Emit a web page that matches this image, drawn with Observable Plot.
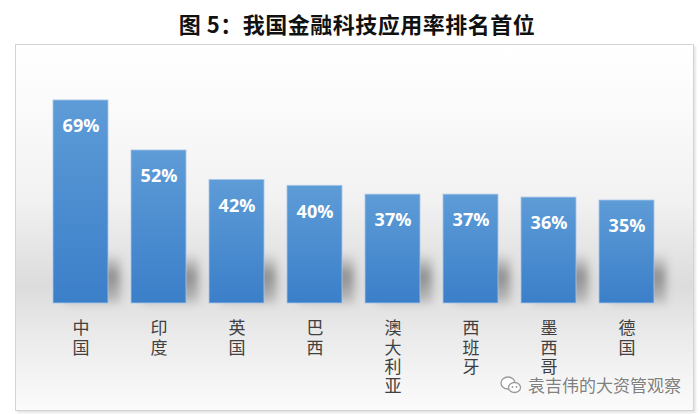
<!DOCTYPE html>
<html><head><meta charset="utf-8">
<script src="https://cdn.jsdelivr.net/npm/d3@7"></script>
<script src="https://cdn.jsdelivr.net/npm/@observablehq/plot@0.6"></script>
<style>
body{margin:0;background:#fff;width:700px;height:414px;overflow:hidden;position:relative;font-family:"Noto Sans CJK SC",sans-serif}
#title{position:absolute;left:7px;top:8px;width:700px;text-align:center;font-size:22px;line-height:30px;font-weight:700;color:#111;letter-spacing:0.5px}
#frame{position:absolute;left:15px;top:44px;width:677px;height:365px;border:1px solid #d3d3d3;box-shadow:2px 2px 2px rgba(0,0,0,0.10);
background:linear-gradient(to bottom,#ffffff 0%,#fbfbfb 15%,#f2f2f2 42%,#e5e5e5 56%,#dcdcdc 66%,#e9e9e9 78%,#f9f9f9 97%,#fbfbfb 100%)}
#chart{position:absolute;left:0;top:44px;}
#wm{position:absolute;left:500px;top:374px;height:22px;display:flex;align-items:center;}
#wm span{font-size:17px;line-height:20px;color:#808080;margin-left:6px;text-shadow:0 0 2px #fff,0 0 2px #fff;}
</style></head>
<body>
<div id="title">图 5：我国金融科技应用率排名首位</div>
<div id="frame"></div>
<div id="chart"></div>
<div id="wm"><svg width="22" height="20" viewBox="0 0 22 20"><ellipse cx="8" cy="8" rx="7" ry="6" fill="#fff" stroke="#9a9a9a" stroke-width="1.3"/><ellipse cx="14.5" cy="12.5" rx="6" ry="5" fill="#fff" stroke="#9a9a9a" stroke-width="1.3"/><circle cx="12.5" cy="12" r="0.9" fill="#9a9a9a"/><circle cx="16.5" cy="12" r="0.9" fill="#9a9a9a"/></svg><span>袁吉伟的大资管观察</span></div>
<script>
const countries = ["中国","印度","英国","巴西","澳大利亚","西班牙","墨西哥","德国"];
const rates = [69,52,42,40,37,37,36,35];
const data = countries.map((c,i)=>({country:c, rate:rates[i]}));

const chart = Plot.plot({
  width:700, height:367, marginLeft:27, marginRight:19, marginTop:23.6, marginBottom:108,
  style:{background:"transparent", overflow:"visible"},
  x:{domain:countries, padding:0.29, axis:null},
  y:{domain:[0,80], axis:null},
  marks:[
    Plot.barY(data,{x:"country", y1:0, y2:d=>Math.min(d.rate,17), fill:"url(#shadowGrad)", dx:12}),
    Plot.barY(data,{x:"country", y:"rate", fill:"url(#barGrad)", stroke:"#a8c6e8", strokeWidth:0.8}),
    Plot.text(data,{x:"country", y:"rate", text:d=>d.rate+"%", dy:26, fill:"white", fontSize:18, fontWeight:700, fontFamily:"Open Sans"}),
    Plot.text(data,{x:"country", y:0, text:d=>[...d.country].join("\n"), lineAnchor:"top", dy:17, fontSize:17, lineHeight:1.14, fill:"#404040", fontFamily:"Noto Sans CJK SC"})
  ]
});
const svg = d3.select(chart);
const defs = svg.insert("defs",":first-child");
const bg = defs.append("linearGradient").attr("id","barGrad").attr("x1",0).attr("y1",0).attr("x2",0).attr("y2",1);
bg.append("stop").attr("offset","0%").attr("stop-color","#5e9cd7");
bg.append("stop").attr("offset","100%").attr("stop-color","#3b7fc9");
const sg = defs.append("linearGradient").attr("id","shadowGrad").attr("x1",0).attr("y1",0).attr("x2",0).attr("y2",1);
sg.append("stop").attr("offset","0%").attr("stop-color","#000").attr("stop-opacity",0);
sg.append("stop").attr("offset","45%").attr("stop-color","#000").attr("stop-opacity",0.36);
sg.append("stop").attr("offset","100%").attr("stop-color","#000").attr("stop-opacity",0.14);
const f = defs.append("filter").attr("id","blur").attr("x","-40%").attr("y","-40%").attr("width","180%").attr("height","180%");
f.append("feGaussianBlur").attr("stdDeviation",4.5);
const groups = svg.selectAll('g[aria-label="bar"]').nodes();
if (groups.length) d3.select(groups[0]).attr("filter","url(#blur)");
document.getElementById("chart").appendChild(chart);
</script>
</body></html>
